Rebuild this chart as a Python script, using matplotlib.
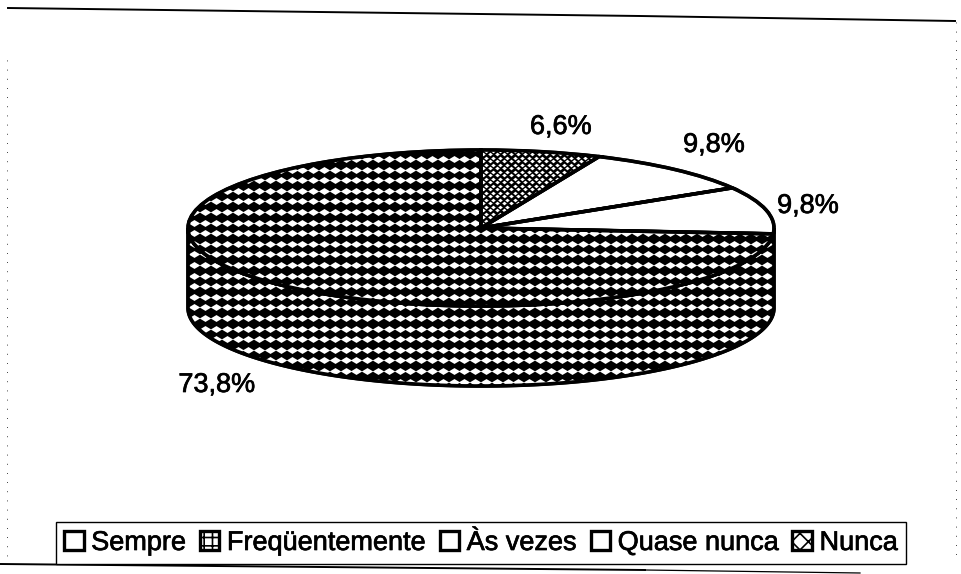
import numpy as np
import matplotlib
matplotlib.use('Agg')
import matplotlib.pyplot as plt
import matplotlib.patheffects as pe
from matplotlib.patches import Patch, Polygon, Wedge
from matplotlib.lines import Line2D

plt.rcParams['font.family'] = ['Liberation Sans', 'DejaVu Sans']
plt.rcParams['hatch.linewidth'] = 1.2

categories = ['Sempre', 'Freqüentemente', 'Às vezes', 'Quase nunca', 'Nunca']
values = [0, 6.6, 9.8, 9.8, 73.8]
value_labels = ['6,6%', '9,8%', '9,8%', '73,8%']

W, H = 961, 574
cx, cy, rx, ry, depth = 481, 228, 293, 78, 80

fig = plt.figure(figsize=(W / 100, H / 100), dpi=100)
ax = fig.add_axes([0, 0, 1, 1])

bold = [pe.withStroke(linewidth=0.5, foreground='black')]


def px(x, y):
    # picture pixels to pie units
    return (x - cx) / rx, (cy - y) / ry


def texture(patch, step_x, step_y, width_px, ratio, stagger=False):
    # white rhombus spots on black, clipped to the patch
    xs = np.arange(0, W + step_x, step_x)
    ys = np.arange(0, H + step_y, step_y)
    gx, gy = np.meshgrid(xs, ys)
    if stagger:
        gx = gx + (np.arange(len(ys)) % 2)[:, None] * step_x / 2
    dx, dy = px(gx.ravel(), gy.ravel())
    spot = [(-1, 0), (0, ratio), (1, 0), (0, -ratio)]
    size = (width_px * 0.72) ** 2
    pts = ax.scatter(dx, dy, s=size, marker=spot, c='white', linewidths=0, zorder=patch.get_zorder() + 0.1)
    pts.set_clip_path(patch)


wedges, _ = ax.pie(values, startangle=90, counterclock=False, radius=1, center=(0, 0),
                   colors=['white'] * 5,
                   wedgeprops={'edgecolor': 'black', 'linewidth': 2.4, 'zorder': 3})
ax.set_aspect('auto')
ax.set_xlim(px(0, 0)[0], px(W, 0)[0])
ax.set_ylim(px(0, H)[1], px(0, 0)[1])
ax.axis('off')

# side wall of the disc
t = np.linspace(np.pi, 2 * np.pi, 200)
ex, ey = np.cos(t), np.sin(t)
wall_xy = np.column_stack([np.r_[ex, ex[::-1]], np.r_[ey - depth / ry, ey[::-1]]])
wall = Polygon(wall_xy, closed=True, facecolor='black', edgecolor='black', linewidth=2.4, zorder=2)
ax.add_patch(wall)
texture(wall, 10.8, 10.6, 11.5, 0.6)
ax.add_patch(Polygon(wall_xy, closed=True, fill=False, edgecolor='black', linewidth=2.6, zorder=2.5))

wedges[4].set_facecolor('black')
texture(wedges[4], 10.8, 10.6, 11.5, 0.6)
wedges[1].set_facecolor('black')
texture(wedges[1], 7.0, 3.5, 4.6, 0.8, stagger=True)

# outlines go back on top of the spots
for w in wedges[1:]:
    ax.add_patch(Wedge(w.center, w.r, w.theta1, w.theta2, fill=False, edgecolor='black', linewidth=2.6, zorder=5))

label_pos = [(561, 127), (714, 145), (808, 206), (217, 385)]
for txt, (x, y) in zip(value_labels, label_pos):
    lx, ly = px(x, y)
    ax.text(lx, ly, txt, fontsize=19.5, ha='center', va='center', color='black', zorder=6, path_effects=bold)

handles = [
    Patch(facecolor='white', edgecolor='black', linewidth=2.4),
    Patch(facecolor='white', edgecolor='black', linewidth=2.4, hatch='++'),
    Patch(facecolor='white', edgecolor='black', linewidth=2.4),
    Patch(facecolor='white', edgecolor='black', linewidth=2.4),
    Patch(facecolor='white', edgecolor='black', linewidth=2.4, hatch='xx'),
]
leg = fig.legend(handles, categories, ncol=5, loc='center',
                 bbox_to_anchor=(481 / W, 1 - 543 / H), fontsize=19.5,
                 fancybox=False, framealpha=1, edgecolor='black',
                 handlelength=0.72, handleheight=0.72, handletextpad=0.28,
                 columnspacing=0.5, borderpad=0.28, borderaxespad=0)
leg.get_frame().set_linewidth(1.0)
for text in leg.get_texts():
    text.set_path_effects(bold)


def fig_line(xs, ys, **kw):
    fig.add_artist(Line2D(np.array(xs) / W, 1 - np.array(ys) / H, color='black', **kw))


# scanned page frame
fig_line([8, 320, 640, 955], [8, 12, 16, 21], lw=1.4)
fig_line([0, 645], [564, 570], lw=1.4)
fig_line([645, 860], [570, 573], lw=0.9)
fig_line([7, 7], [60, 560], lw=0.6, ls=(0, (1, 10)))
fig_line([956, 956], [22, 560], lw=0.6, ls=(0, (1, 10)))
fig.savefig('out.png', dpi=100)
